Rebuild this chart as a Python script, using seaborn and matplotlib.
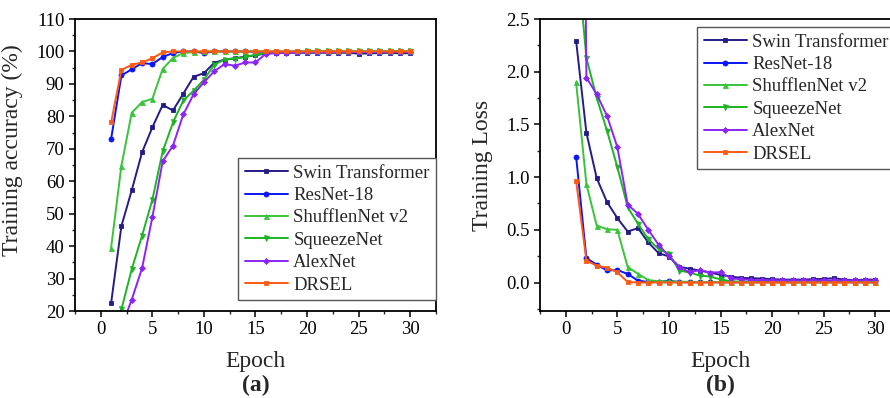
import matplotlib
matplotlib.use("Agg")
import matplotlib.pyplot as plt
import seaborn as sns
import pandas as pd
from matplotlib.ticker import MultipleLocator, FormatStrFormatter

# ---------------- data ----------------
epochs = [1, 2, 3, 4, 5, 6, 7, 8, 9, 10, 11, 12, 13, 14, 15,
          16, 17, 18, 19, 20, 21, 22, 23, 24, 25, 26, 27, 28, 29, 30]

models = ["Swin Transformer", "ResNet-18", "ShufflenNet v2", "SqueezeNet", "AlexNet", "DRSEL"]

swin_acc = [22.4, 46.2, 57.2, 68.9, 76.6, 83.5, 81.8, 87.0, 92.2, 93.3, 96.5, 97.5, 97.9, 98.4, 98.8,
            99.4, 99.5, 99.6, 99.6, 99.6, 99.6, 99.6, 99.6, 99.6, 99.3, 99.4, 99.5, 99.6, 99.4, 99.5]
resnet_acc = [73.0, 92.6, 94.5, 96.4, 96.1, 98.3, 99.5, 100.0, 100.0, 99.5, 100.0, 100.0, 100.0, 100.0, 99.9,
              99.9, 99.9, 99.9, 99.9, 99.9, 99.9, 99.9, 99.9, 99.9, 99.9, 99.9, 99.9, 99.9, 99.8, 99.8]
shuffle_acc = [39.5, 64.8, 81.1, 84.4, 85.4, 94.6, 98.0, 99.5, 99.8, 100.0, 100.0, 100.0, 100.0, 100.0, 100.0,
               100.0, 100.0, 100.0, 100.0, 100.0, 100.0, 100.0, 100.0, 100.0, 100.0, 100.0, 100.0, 100.0, 100.0, 100.0]
squeeze_acc = [12.0, 20.5, 32.9, 43.2, 54.3, 69.2, 78.1, 84.9, 87.9, 91.3, 95.9, 97.5, 97.8, 98.2, 99.0,
               99.5, 99.7, 99.8, 99.9, 100.0, 100.0, 100.0, 100.0, 100.0, 100.0, 100.0, 100.0, 100.0, 100.0, 100.0]
alex_acc = [10.0, 15.0, 23.5, 33.2, 48.9, 66.1, 71.0, 80.6, 86.8, 90.5, 93.9, 96.1, 95.6, 96.6, 96.6,
            99.3, 99.5, 99.6, 99.7, 99.8, 99.8, 99.8, 99.8, 99.8, 99.8, 99.8, 99.8, 99.8, 99.8, 99.8]
drsel_acc = [78.1, 94.3, 95.9, 96.6, 97.9, 99.7, 100.0, 100.0, 100.0, 100.0, 100.0, 100.0, 100.0, 100.0, 100.0,
             100.0, 100.0, 100.0, 100.0, 100.0, 100.0, 100.0, 100.0, 100.0, 100.0, 100.0, 100.0, 100.0, 100.0, 100.0]

swin_loss = [2.294, 1.42, 0.99, 0.763, 0.611, 0.484, 0.516, 0.38, 0.279, 0.247, 0.15, 0.131, 0.114, 0.095, 0.072,
             0.057, 0.044, 0.041, 0.038, 0.032, 0.028, 0.028, 0.028, 0.032, 0.035, 0.041, 0.028, 0.022, 0.028, 0.028]
resnet_loss = [1.195, 0.23, 0.17, 0.115, 0.118, 0.082, 0.018, 0.005, 0.005, 0.018, 0.004, 0.003, 0.003, 0.003, 0.003,
               0.003, 0.003, 0.003, 0.003, 0.003, 0.003, 0.003, 0.003, 0.003, 0.003, 0.003, 0.003, 0.003, 0.003, 0.003]
shuffle_loss = [1.90, 0.933, 0.54, 0.506, 0.50, 0.147, 0.083, 0.023, 0.012, 0.010, 0.008, 0.007, 0.006, 0.005, 0.005,
                0.004, 0.004, 0.003, 0.003, 0.003, 0.003, 0.003, 0.003, 0.003, 0.003, 0.003, 0.003, 0.003, 0.003, 0.003]
squeeze_loss = [3.2, 2.13, 1.75, 1.44, 1.095, 0.715, 0.557, 0.411, 0.318, 0.272, 0.114, 0.095, 0.066, 0.057, 0.030,
                0.012, 0.008, 0.006, 0.005, 0.005, 0.005, 0.005, 0.005, 0.005, 0.005, 0.005, 0.005, 0.005, 0.005, 0.005]
alex_loss = [12.0, 1.944, 1.786, 1.581, 1.284, 0.74, 0.651, 0.50, 0.358, 0.248, 0.143, 0.099, 0.117, 0.095, 0.098,
             0.041, 0.030, 0.025, 0.022, 0.020, 0.020, 0.020, 0.020, 0.020, 0.020, 0.020, 0.020, 0.020, 0.020, 0.020]
drsel_loss = [0.965, 0.208, 0.16, 0.141, 0.097, 0.005, 0.0, 0.0, 0.0, 0.0, 0.0, 0.0, 0.0, 0.0, 0.0,
              0.0, 0.0, 0.0, 0.0, 0.0, 0.0, 0.0, 0.0, 0.0, 0.0, 0.0, 0.0, 0.0, 0.0, 0.0]

acc_series = [swin_acc, resnet_acc, shuffle_acc, squeeze_acc, alex_acc, drsel_acc]
loss_series = [swin_loss, resnet_loss, shuffle_loss, squeeze_loss, alex_loss, drsel_loss]

acc_ticks = [20, 30, 40, 50, 60, 70, 80, 90, 100, 110]
loss_ticks = [0.0, 0.5, 1.0, 1.5, 2.0, 2.5]
epoch_ticks = [0, 5, 10, 15, 20, 25, 30]

# ---------------- style ----------------
colors = ["#251C86", "#0A14F5", "#39C43A", "#1EB424", "#8A25F5", "#FF5A14"]
markers = ["s", "o", "^", "v", "D", "s"]
msizes = [3.2, 3.6, 3.6, 3.6, 3.0, 3.2]

sns.set_style("ticks")
plt.rcParams["font.family"] = ["Liberation Serif", "DejaVu Serif"]

W, H = 890, 398
fig = plt.figure(figsize=(W / 100, H / 100), dpi=100)

def frac(x0, x1, y0, y1):
    return [x0 / W, 1 - y1 / H, (x1 - x0) / W, (y1 - y0) / H]

TOP, BOT = 19, 311
axA = fig.add_axes(frac(75, 436, TOP, BOT))
axB = fig.add_axes(frac(540, 901, TOP, BOT))
AH = BOT - TOP

def draw(ax, series):
    for name, vals, c, m, ms in zip(models, series, colors, markers, msizes):
        df = pd.DataFrame({"Epoch": epochs, "v": vals})
        sns.lineplot(data=df, x="Epoch", y="v", ax=ax, color=c, marker=m,
                     markersize=ms, markeredgewidth=0.6, markeredgecolor=c,
                     linewidth=1.4, label=name, estimator=None, sort=False)

draw(axA, acc_series)
draw(axB, loss_series)

for ax in (axA, axB):
    ax.set_xlim(-2.5, 32.5)
    ax.set_xticks(epoch_ticks)
    ax.xaxis.set_minor_locator(MultipleLocator(2.5))
    for s in ax.spines.values():
        s.set_linewidth(1.3)
        s.set_color("black")
    ax.tick_params(which="major", direction="out", length=4.5, width=1.1,
                   labelsize=13.5, colors="black", top=False, right=False, pad=3)
    ax.tick_params(which="minor", direction="out", length=2.5, width=1.0,
                   top=False, right=False)
    ax.set_xlabel("Epoch", fontsize=17)
    ax.xaxis.set_label_coords(0.5, -(362 - BOT) / AH)
    ax.xaxis.label.set_va("center")

axA.set_ylim(20, 110)
axA.set_yticks(acc_ticks)
axA.yaxis.set_minor_locator(MultipleLocator(5))
axA.set_ylabel("Training accuracy (%)", fontsize=17)
axA.yaxis.set_label_coords(-0.145, 0.55)

axB.set_ylim(-0.27, 2.5)
axB.set_yticks(loss_ticks)
axB.yaxis.set_major_formatter(FormatStrFormatter("%.1f"))
axB.yaxis.set_minor_locator(MultipleLocator(0.25))
axB.set_ylabel("Training Loss", fontsize=17)
axB.yaxis.set_label_coords(-0.13, 0.5)

yab = -(385 - BOT) / AH
axA.text(0.5, yab, "(a)", transform=axA.transAxes, ha="center", va="center",
         fontsize=17, fontweight="bold")
axB.text(0.5, yab, "(b)", transform=axB.transAxes, ha="center", va="center",
         fontsize=17, fontweight="bold")

leg_kw = dict(loc="upper left", fontsize=13.5, frameon=True, fancybox=False,
              edgecolor="#555555", framealpha=1, borderaxespad=0,
              handlelength=2.3, handletextpad=0.3, labelspacing=0.28,
              borderpad=0.35)
legA = axA.legend(bbox_to_anchor=((238 - 75) / 361, 1 - (158 - TOP) / AH), **leg_kw)
legB = axB.legend(bbox_to_anchor=((697 - 540) / 361, 1 - (27 - TOP) / AH), **leg_kw)
for leg in (legA, legB):
    leg.get_frame().set_linewidth(1.0)

fig.savefig("out.png", dpi=100)
